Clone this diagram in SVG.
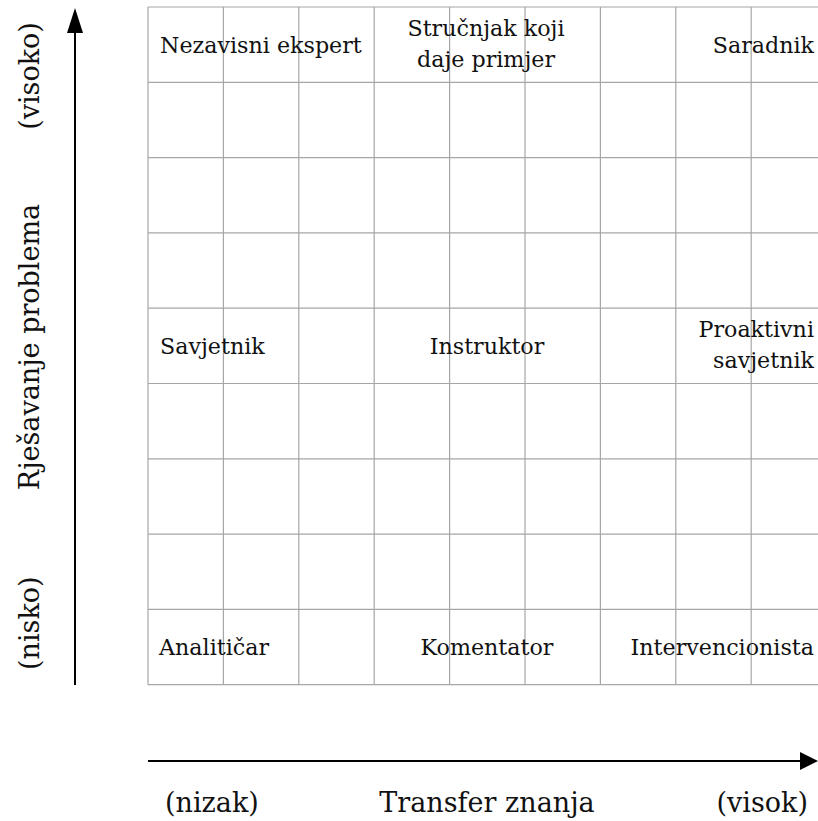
<svg xmlns="http://www.w3.org/2000/svg" width="818" height="821" viewBox="0 0 818 821">
<style>
.g{stroke:#a6a6a6;stroke-width:1.2;fill:none}
.t{font-family:"DejaVu Serif","Liberation Serif",serif;font-size:22.2px;fill:#111}
.a{font-family:"DejaVu Serif","Liberation Serif",serif;font-size:27px;fill:#111}
.ax{stroke:#000;stroke-width:2;fill:none}
.ah{fill:#000}
</style>
<rect width="818" height="821" fill="#fff"/>
<g id="grid">
<line class="g" x1="148" y1="7" x2="148" y2="685"/>
<line class="g" x1="223.4" y1="7" x2="223.4" y2="685"/>
<line class="g" x1="298.8" y1="7" x2="298.8" y2="685"/>
<line class="g" x1="374.2" y1="7" x2="374.2" y2="685"/>
<line class="g" x1="449.6" y1="7" x2="449.6" y2="685"/>
<line class="g" x1="525" y1="7" x2="525" y2="685"/>
<line class="g" x1="600.4" y1="7" x2="600.4" y2="685"/>
<line class="g" x1="675.8" y1="7" x2="675.8" y2="685"/>
<line class="g" x1="751.2" y1="7" x2="751.2" y2="685"/>
<line class="g" x1="148" y1="7" x2="818" y2="7"/>
<line class="g" x1="148" y1="82.3" x2="818" y2="82.3"/>
<line class="g" x1="148" y1="157.6" x2="818" y2="157.6"/>
<line class="g" x1="148" y1="232.9" x2="818" y2="232.9"/>
<line class="g" x1="148" y1="308.2" x2="818" y2="308.2"/>
<line class="g" x1="148" y1="383.5" x2="818" y2="383.5"/>
<line class="g" x1="148" y1="458.8" x2="818" y2="458.8"/>
<line class="g" x1="148" y1="534.1" x2="818" y2="534.1"/>
<line class="g" x1="148" y1="609.4" x2="818" y2="609.4"/>
<line class="g" x1="148" y1="684.7" x2="818" y2="684.7"/>
</g>
<g id="connectors">
<line class="ax" x1="75" y1="685" x2="75" y2="30"/>
<polygon class="ah" points="75,8 67,33 83,33"/>
<line class="ax" x1="148" y1="761" x2="802" y2="761"/>
<polygon class="ah" points="818,761 800,752 800,770"/>
</g>
<g id="n-nezavisni"><text class="t" x="160" y="53">Nezavisni ekspert</text></g>
<g id="n-strucnjak"><text class="t" x="486" y="36" text-anchor="middle">Stručnjak koji</text><text class="t" x="486" y="67" text-anchor="middle">daje primjer</text></g>
<g id="n-saradnik"><text class="t" x="814" y="53" text-anchor="end">Saradnik</text></g>
<g id="n-savjetnik"><text class="t" x="160" y="354">Savjetnik</text></g>
<g id="n-instruktor"><text class="t" x="487" y="354" text-anchor="middle">Instruktor</text></g>
<g id="n-proaktivni"><text class="t" x="814" y="337" text-anchor="end">Proaktivni</text><text class="t" x="814" y="368" text-anchor="end">savjetnik</text></g>
<g id="n-analiticar"><text class="t" x="159" y="655">Analitičar</text></g>
<g id="n-komentator"><text class="t" x="487" y="655" text-anchor="middle">Komentator</text></g>
<g id="n-intervencionista"><text class="t" x="814" y="655" text-anchor="end">Intervencionista</text></g>
<g id="x-axis-labels">
<text class="a" x="165" y="812">(nizak)</text>
<text class="a" x="487" y="812" text-anchor="middle">Transfer znanja</text>
<text class="a" x="808" y="812" text-anchor="end">(visok)</text>
</g>
<g id="y-axis-labels">
<text class="a" transform="translate(39,76) rotate(-90)" text-anchor="middle">(visoko)</text>
<text class="a" transform="translate(39,347) rotate(-90)" text-anchor="middle">Rješavanje problema</text>
<text class="a" transform="translate(39,670) rotate(-90)">(nisko)</text>
</g>
</svg>
